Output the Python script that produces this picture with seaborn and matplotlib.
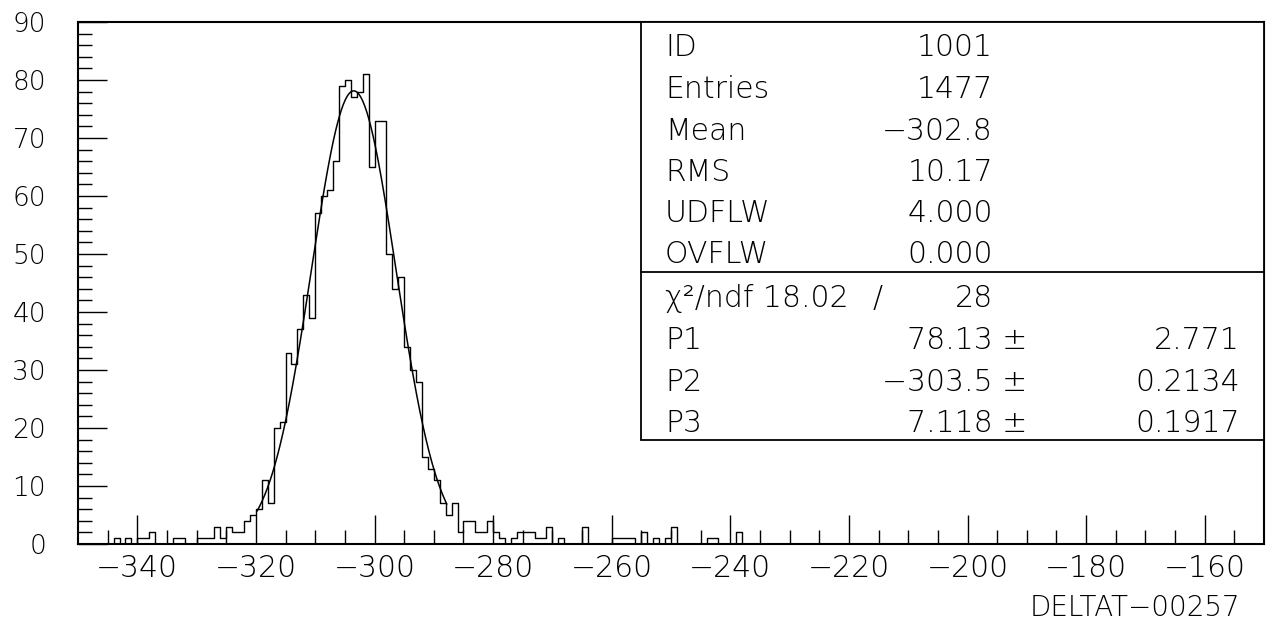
import numpy as np
import pandas as pd
import matplotlib
matplotlib.use("Agg")
import matplotlib.pyplot as plt
import seaborn as sns

# ---- data (HBOOK histogram 1001, bin width 1) ----
hist_range = (-350, -150)
bin_width = 1
bin_left = [-344, -342, -340, -339, -338, -334, -333, -330, -329, -328,
            -327, -326, -325, -324, -323, -322, -321, -320, -319, -318,
            -317, -316, -315, -314, -313, -312, -311, -310, -309, -308,
            -307, -306, -305, -304, -303, -302, -301, -300, -299, -298,
            -297, -296, -295, -294, -293, -292, -291, -290, -289, -288,
            -287, -286, -285, -284, -283, -282, -281, -280, -279, -277,
            -276, -275, -274, -273, -272, -271, -269, -265, -260, -259,
            -258, -257, -255, -253, -251, -250, -244, -243, -239]
bin_count = [1, 1, 1, 1, 2, 1, 1, 1, 1, 1,
             3, 1, 3, 2, 2, 4, 5, 6, 11, 7,
             20, 21, 33, 31, 37, 43, 39, 57, 60, 61,
             66, 79, 80, 77, 78, 81, 65, 73, 73, 50,
             44, 46, 34, 30, 28, 15, 13, 11, 7, 5,
             7, 2, 4, 4, 2, 2, 4, 2, 1, 1,
             2, 2, 2, 1, 1, 3, 1, 3, 1, 1,
             1, 1, 2, 1, 1, 3, 1, 1, 2]

# gaussian fit parameters shown in the statistics box, and fit range
P1, P2, P3 = 78.13, -303.5, 7.118
fit_range = (-319.8, -287.8)

x_ticks = [-340, -320, -300, -280, -260, -240, -220, -200, -180, -160]
y_ticks = [0, 10, 20, 30, 40, 50, 60, 70, 80, 90]

stat_labels = ["ID", "Entries", "Mean", "RMS", "UDFLW", "OVFLW"]
stat_values = ["1001", "1477", "\u2212302.8", "10.17", "4.000", "0.000"]
chi2_text = ("\u03c7\u00b2/ndf 18.02", "/", "28")
par_labels = ["P1", "P2", "P3"]
par_values = ["78.13 \u00b1", "\u2212303.5 \u00b1", "7.118 \u00b1"]
par_errors = ["2.771", "0.2134", "0.1917"]
x_title = "DELTAT\u221200257"

# ---- styling ----
sns.set_theme(style="white")
plt.rcParams["font.family"] = ["DejaVu Sans"]
plt.rcParams["axes.unicode_minus"] = True
FS_X = 21.5
FS_Y = 19
FS_S = 21.5
FS_T = 20
FW = "light"

fig = plt.figure(figsize=(12.66, 6.28), dpi=100)
ax = fig.add_axes([78 / 1266, 84 / 628, 1186 / 1266, 522 / 628])

df = pd.DataFrame({"x": np.array(bin_left, dtype=float) + bin_width / 2,
                   "w": np.array(bin_count, dtype=float)})
sns.histplot(data=df, x="x", weights="w", binwidth=bin_width, binrange=hist_range,
             element="step", fill=False, color="black", linewidth=1.0, ax=ax)

xf = np.linspace(fit_range[0], fit_range[1], 300)
fit_df = pd.DataFrame({"x": xf, "y": P1 * np.exp(-0.5 * ((xf - P2) / P3) ** 2)})
sns.lineplot(data=fit_df, x="x", y="y", color="black", linewidth=1.1, ax=ax)

ax.set_xlim(*hist_range)
ax.set_ylim(0, 90)
ax.set_xticks(x_ticks)
ax.set_xticks(np.arange(-345, -150, 5), minor=True)
ax.set_yticks(y_ticks)
ax.set_yticks(np.arange(0, 91, 2), minor=True)
ax.set_xticklabels([f"\u2212{abs(v)}" for v in x_ticks], fontsize=FS_X, fontweight=FW)
ax.set_yticklabels([str(v) for v in y_ticks], fontsize=FS_Y, fontweight=FW)
ax.tick_params(axis="both", which="major", direction="in", length=21, width=1.0, color="black")
ax.tick_params(axis="both", which="minor", direction="in", length=10, width=1.0, color="black")
ax.tick_params(axis="x", which="major", pad=7, labelcolor="black")
ax.tick_params(axis="y", which="major", pad=23, labelcolor="black")
ax.tick_params(top=False, right=False, which="both")
ax.tick_params(axis="x", which="both", bottom=True)
ax.tick_params(axis="y", which="both", left=True)
ax.set_xlabel("")
ax.set_ylabel("")
for s in ax.spines.values():
    s.set_visible(True)
    s.set_color("black")
    s.set_linewidth(1.5)
ax.grid(False)

# ---- statistics box ----
bx0, by0 = 0.475, 0.199
ax.add_patch(plt.Rectangle((bx0, by0), 1 - bx0, 1 - by0, transform=ax.transAxes,
                           facecolor="white", edgecolor="black", linewidth=1.3,
                           zorder=5, clip_on=False))
ax.plot([bx0, 1], [0.521, 0.521], transform=ax.transAxes, color="black",
        linewidth=1.3, zorder=6, clip_on=False)

rows_top = [0.952, 0.8716, 0.7911, 0.7126, 0.634, 0.5555]
rows_bot = [0.4712, 0.3907, 0.3103, 0.2317]
xl, xv, xpm, xe, xs = 0.495, 0.7715, 0.800, 0.9798, 0.6745
tk = dict(transform=ax.transAxes, fontsize=FS_S, fontweight=FW, color="black",
          va="center", zorder=7)
for lab, val, yy in zip(stat_labels, stat_values, rows_top):
    ax.text(xl, yy, lab, ha="left", **tk)
    ax.text(xv, yy, val, ha="right", **tk)
ax.text(xl, rows_bot[0], chi2_text[0], ha="left", **tk)
ax.text(xs, rows_bot[0], chi2_text[1], ha="center", **tk)
ax.text(xv, rows_bot[0], chi2_text[2], ha="right", **tk)
for lab, val, err, yy in zip(par_labels, par_values, par_errors, rows_bot[1:]):
    ax.text(xl, yy, lab, ha="left", **tk)
    ax.text(xpm, yy, val, ha="right", **tk)
    ax.text(xe, yy, err, ha="right", **tk)

fig.text(1240 / 1266, (628 - 608) / 628, x_title, ha="right", va="center",
         fontsize=FS_T, fontweight=FW, color="black")

fig.savefig("out.png", dpi=100, facecolor="white")
